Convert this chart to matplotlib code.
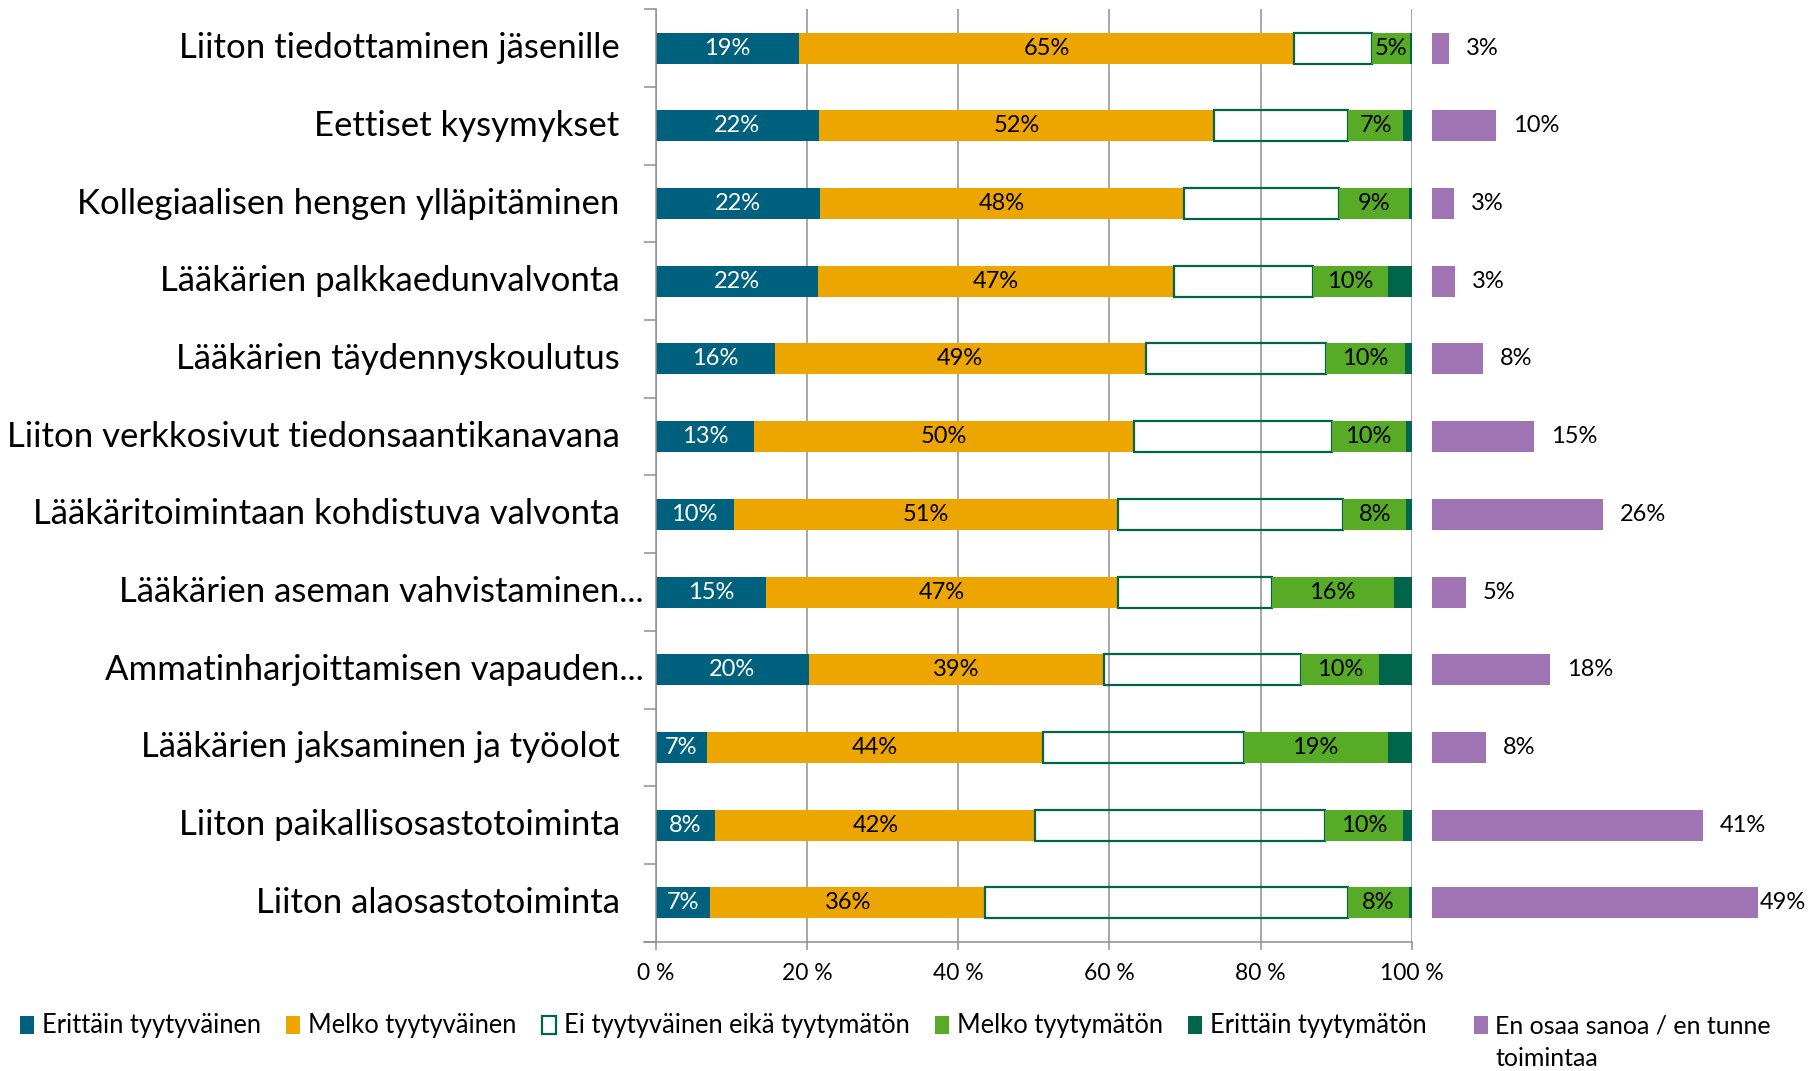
import matplotlib
matplotlib.use('Agg')
from matplotlib import pyplot as plt
import numpy as np

plt.rcParams['font.family'] = ['Lato', 'DejaVu Sans']

categories = ['Liiton tiedottaminen jäsenille',
	'Eettiset kysymykset',
	'Kollegiaalisen hengen ylläpitäminen',
	'Lääkärien palkkaedunvalvonta',
	'Lääkärien täydennyskoulutus',
	'Liiton verkkosivut tiedonsaantikanavana',
	'Lääkäritoimintaan kohdistuva valvonta',
	'Lääkärien aseman vahvistaminen...',
	'Ammatinharjoittamisen vapauden...',
	'Lääkärien jaksaminen ja työolot',
	'Liiton paikallisosastotoiminta',
	'Liiton alaosastotoiminta']

erittain_tyytyvainen = [19.0, 21.6, 21.7, 21.5, 15.8, 13.0, 10.3, 14.6, 20.3, 6.8, 7.9, 7.2]
melko_tyytyvainen = [65.4, 52.3, 48.2, 47.0, 49.0, 50.3, 50.9, 46.6, 39.0, 44.4, 42.3, 36.4]
neutraali = [10.4, 17.7, 20.5, 18.5, 23.9, 26.1, 29.7, 20.3, 26.0, 26.6, 38.3, 48.0]
melko_tyytymaton = [5.0, 7.3, 9.3, 9.8, 10.4, 9.8, 8.4, 16.1, 10.4, 19.0, 10.4, 8.0]
erittain_tyytymaton = [0.2, 1.1, 0.3, 3.2, 0.9, 0.8, 0.7, 2.4, 4.3, 3.2, 1.1, 0.4]
en_osaa = [2.6, 9.6, 3.3, 3.4, 7.6, 15.4, 25.7, 5.1, 17.7, 8.1, 40.7, 49.0]

xticks = [0, 20, 40, 60, 80, 100]
xtick_labels = ['0 %', '20 %', '40 %', '60 %', '80 %', '100 %']

teal = '#00617F'
orange = '#EDA500'
green = '#57AB27'
darkgreen = '#00654A'
purple = '#A074B2'
gray = '#8F8F8F'

fig = plt.figure(figsize=(18.11, 10.71), dpi=100)
W, H = 1811, 1071
ax = fig.add_axes([655.7/W, 129.3/H, 756/W, 932.4/H])
ax2 = fig.add_axes([1432/W, 129.3/H, 379/W, 932.4/H])

y = np.arange(len(categories))
pct = lambda vals: ['%.0f%%' % v for v in vals]

left = np.zeros(len(categories))
b1 = ax.barh(y, erittain_tyytyvainen, left=left, height=0.4, color=teal, label='Erittäin tyytyväinen')
ax.bar_label(b1, labels=pct(erittain_tyytyvainen), label_type='center', color='white', fontsize=17)
left += erittain_tyytyvainen
b2 = ax.barh(y, melko_tyytyvainen, left=left, height=0.4, color=orange, label='Melko tyytyväinen')
ax.bar_label(b2, labels=pct(melko_tyytyvainen), label_type='center', color='black', fontsize=17)
left += melko_tyytyvainen
b3 = ax.barh(y, neutraali, left=left, height=0.4, facecolor='none', edgecolor=darkgreen, linewidth=1.6,
	label='Ei tyytyväinen eikä tyytymätön')
left += neutraali
b4 = ax.barh(y, melko_tyytymaton, left=left, height=0.4, color=green, label='Melko tyytymätön')
ax.bar_label(b4, labels=pct(melko_tyytymaton), label_type='center', color='black', fontsize=17)
left += melko_tyytymaton
b5 = ax.barh(y, erittain_tyytymaton, left=left, height=0.4, color=darkgreen, label='Erittäin tyytymätön')

ax.set_xlim(0, 100)
ax.set_ylim(11.5, -0.5)
ax.set_axisbelow(True)
ax.grid(axis='x', color=gray, linewidth=1.1)
ax.set_xticks(xticks)
ax.set_xticklabels(xtick_labels, fontsize=16.5)
ax.tick_params(axis='x', length=6, width=1.1, color=gray, pad=9)
ax.set_yticks(y)
ax.set_yticklabels([''] * len(categories))
ax.tick_params(axis='y', which='major', length=0)
ax.set_yticks(np.arange(-0.5, len(categories), 1), minor=True)
ax.tick_params(axis='y', which='minor', length=8.5, width=1.1, color=gray)
for s in ['top', 'right']:
	ax.spines[s].set_visible(False)
for s in ['left', 'bottom']:
	ax.spines[s].set_color(gray)
	ax.spines[s].set_linewidth(1.1)
ax.spines['bottom'].set_bounds(-1.6, 100)

# category names, the truncated ones hang further right like in excel
for i, name in enumerate(categories):
	dx = -12 if name.endswith('...') else -36
	ax.annotate(name, xy=(0, i), xycoords=('axes fraction', 'data'), xytext=(dx, 0),
		textcoords='offset pixels', ha='right', va='center', fontsize=25)

# separate panel for "en osaa sanoa"
b6 = ax2.barh(y, en_osaa, height=0.4, color=purple, label='En osaa sanoa / en tunne')
ax2.set_xlim(0, 57)
ax2.set_ylim(11.5, -0.5)
ax2.axis('off')
for i, v in enumerate(en_osaa):
	dx = 2 if v > 45 else 17
	ax2.annotate('%.0f%%' % v, xy=(v, i), xytext=(dx, 0), textcoords='offset pixels',
		ha='left', va='center', fontsize=17)

fig.legend(handles=[b1, b2, b3, b4, b5], loc='center left', bbox_to_anchor=(20/W, 45/H),
	ncol=5, frameon=False, fontsize=18.4, handlelength=0.55, handleheight=0.7,
	handletextpad=0.3, columnspacing=1.0, borderpad=0, borderaxespad=0)
fig.legend(handles=[b6], loc='center left', bbox_to_anchor=(1474/W, 45/H),
	frameon=False, fontsize=18, handlelength=0.55, handleheight=0.7,
	handletextpad=0.3, borderpad=0, borderaxespad=0)
fig.text(1496/W, 12/H, 'toimintaa', fontsize=18, ha='left', va='center')

fig.savefig('out.png', dpi=100)
